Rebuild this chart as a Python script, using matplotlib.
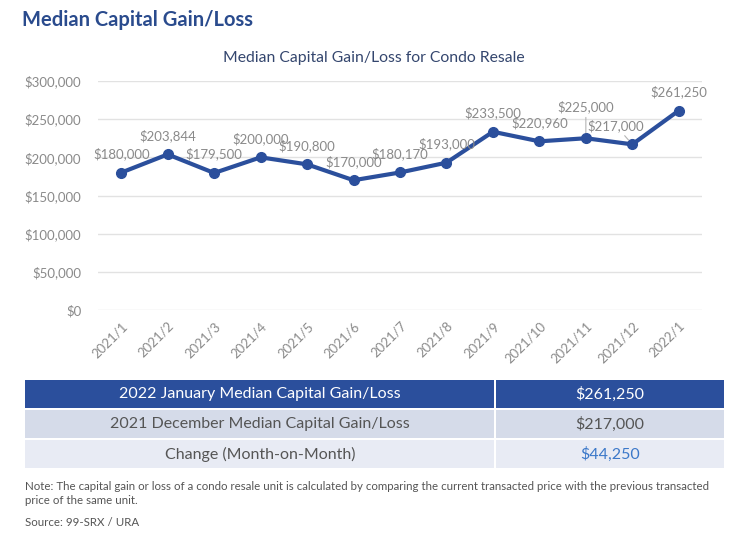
import matplotlib.pyplot as plt
from matplotlib.patches import Rectangle

months = ['2021/1', '2021/2', '2021/3', '2021/4', '2021/5', '2021/6', '2021/7',
          '2021/8', '2021/9', '2021/10', '2021/11', '2021/12', '2022/1']
gain = [180000, 203844, 179500, 200000, 190800, 170000, 180170,
        193000, 233500, 220960, 225000, 217000, 261250]
yticks = [0, 50000, 100000, 150000, 200000, 250000, 300000]

table_labels = ['2022 January Median Capital Gain/Loss',
                '2021 December Median Capital Gain/Loss',
                'Change (Month-on-Month)']
table_values = ['$261,250', '$217,000', '$44,250']

plt.rcParams['font.family'] = ['Lato', 'DejaVu Sans']

blue = '#2b4f9c'
grey = '#8a8a8a'

fig = plt.figure(figsize=(7.5, 5.34), dpi=100)
W, H = 750, 534

def fx(px):
    return px / W

def fy(py):
    return 1 - py / H

fig.text(fx(22), fy(20), 'Median Capital Gain/Loss', fontsize=14.5, fontweight='bold',
         color='#2a4b8d', va='center', ha='left')
fig.text(fx(374), fy(58), 'Median Capital Gain/Loss for Condo Resale', fontsize=11.3,
         color='#34466e', va='center', ha='center')

ax = fig.add_axes([fx(98), fy(310), fx(702) - fx(98), fy(81) - fy(310)])
x = list(range(len(months)))
ax.plot(x, gain, color=blue, lw=3, marker='o', ms=7, zorder=3)
ax.set_xlim(-0.5, 12.5)
ax.set_ylim(0, 300000)
ax.set_yticks(yticks)
ax.set_yticklabels(['${:,}'.format(v) for v in yticks], color=grey, fontsize=9.5)
ax.set_xticks(x)
ax.set_xticklabels(months, rotation=45, ha='right', rotation_mode='anchor',
                   color=grey, fontsize=9.5)
ax.tick_params(axis='y', length=0, pad=12)
ax.tick_params(axis='x', length=0, pad=7)
ax.grid(axis='y', color='#e2e2e2', lw=1)
for s in ax.spines.values():
    s.set_visible(False)

# data labels, offsets in points
offsets = {10: (0, 18), 11: (-12, 9)}
for i, v in enumerate(gain):
    dx, dy = offsets.get(i, (0, 9))
    lbl = '${:,}'.format(v)
    if i in offsets:
        ax.annotate(lbl, (i, v), xytext=(dx, dy), textcoords='offset points',
                    ha='center', va='bottom', color=grey, fontsize=9.5,
                    arrowprops=dict(arrowstyle='-', color='#b5b5b5', lw=0.8,
                                    shrinkA=1, shrinkB=4))
    else:
        ax.annotate(lbl, (i, v), xytext=(dx, dy), textcoords='offset points',
                    ha='center', va='bottom', color=grey, fontsize=9.5)

# summary table
rows_y = [(380, 408), (410, 438), (440, 468)]
fills = [blue, '#d5dbe9', '#e8ebf4']
for r, (y0, y1) in enumerate(rows_y):
    tc = 'white' if r == 0 else '#555555'
    vc = 'white' if r == 0 else ('#3b78c9' if r == 2 else '#555555')
    fig.patches.append(Rectangle((fx(25), fy(y1)), fx(494) - fx(25), fy(y0) - fy(y1),
                                 transform=fig.transFigure, facecolor=fills[r], edgecolor='none'))
    fig.patches.append(Rectangle((fx(496), fy(y1)), fx(724) - fx(496), fy(y0) - fy(y1),
                                 transform=fig.transFigure, facecolor=fills[r], edgecolor='none'))
    ym = fy((y0 + y1) / 2)
    fig.text(fx(260), ym, table_labels[r], ha='center', va='center', fontsize=11.5, color=tc)
    fig.text(fx(610), ym, table_values[r], ha='center', va='center', fontsize=11.5, color=vc)

fig.text(fx(25), fy(486), 'Note: The capital gain or loss of a condo resale unit is calculated by '
         'comparing the current transacted price with the previous transacted',
         ha='left', va='center', fontsize=8.3, color='#555555')
fig.text(fx(25), fy(500), 'price of the same unit.',
         ha='left', va='center', fontsize=8.3, color='#555555')
fig.text(fx(25), fy(522), 'Source: 99-SRX / URA', ha='left', va='center', fontsize=8.3, color='#555555')

fig.savefig('out.png', dpi=100)
